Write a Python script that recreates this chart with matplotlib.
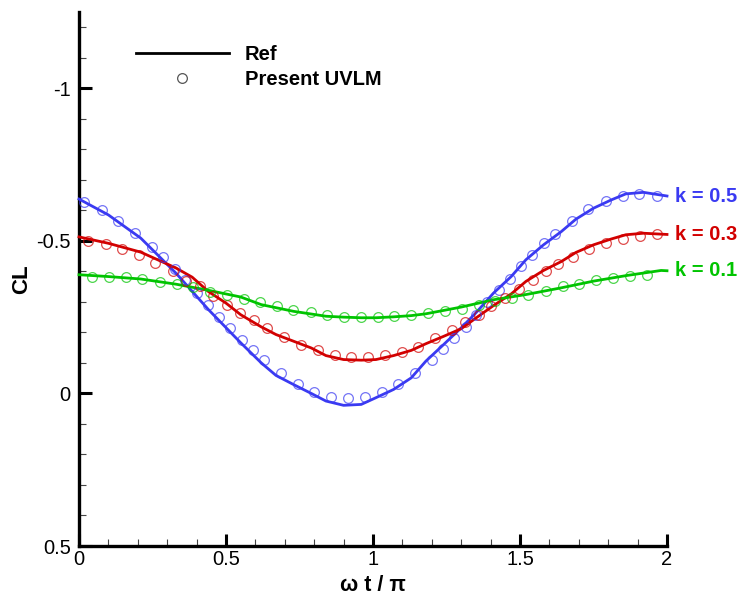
import matplotlib
matplotlib.use("Agg")
import matplotlib.pyplot as plt
from matplotlib.lines import Line2D
from matplotlib.ticker import MultipleLocator, FixedLocator

plt.rcParams['font.family'] = ['Liberation Sans', 'DejaVu Sans']

# ---- Reference (solid lines) ----
blue_line_x = [0, 0.1, 0.21, 0.33, 0.44, 0.55, 0.62, 0.67, 0.73, 0.79, 0.84, 0.90, 0.96,
               1.01, 1.07, 1.13, 1.18, 1.24, 1.30, 1.35, 1.41, 1.47, 1.52, 1.58, 1.64,
               1.69, 1.75, 1.81, 1.86, 1.92, 1.98, 2.0]
blue_line_y = [-0.637, -0.585, -0.509, -0.394, -0.275, -0.166, -0.100, -0.059, -0.029, 0.0,
               0.025, 0.039, 0.036, 0.014, -0.013, -0.051, -0.106, -0.160, -0.215, -0.264,
               -0.329, -0.383, -0.438, -0.487, -0.530, -0.571, -0.607, -0.634, -0.654,
               -0.659, -0.650, -0.647]

red_line_x = [0, 0.1, 0.21, 0.33, 0.385, 0.44, 0.5, 0.55, 0.62, 0.67, 0.73, 0.79, 0.84,
              0.90, 0.96, 1.01, 1.07, 1.13, 1.18, 1.24, 1.30, 1.35, 1.41, 1.47, 1.52,
              1.58, 1.64, 1.69, 1.75, 1.81, 1.86, 1.92, 1.98, 2.0]
red_line_y = [-0.513, -0.492, -0.463, -0.411, -0.381, -0.334, -0.296, -0.258, -0.218,
              -0.193, -0.171, -0.149, -0.124, -0.111, -0.109, -0.111, -0.124, -0.141,
              -0.163, -0.187, -0.212, -0.247, -0.288, -0.326, -0.367, -0.403, -0.432,
              -0.462, -0.487, -0.506, -0.520, -0.525, -0.522, -0.521]

green_line_x = [0, 0.1, 0.21, 0.33, 0.44, 0.55, 0.62, 0.73, 0.84, 0.90, 0.96, 1.01, 1.07,
                1.13, 1.18, 1.24, 1.30, 1.35, 1.41, 1.52, 1.64, 1.75, 1.86, 1.98, 2.0]
green_line_y = [-0.389, -0.383, -0.375, -0.358, -0.338, -0.316, -0.291, -0.269, -0.253,
                -0.250, -0.248, -0.248, -0.251, -0.255, -0.261, -0.272, -0.283, -0.294,
                -0.307, -0.324, -0.346, -0.368, -0.386, -0.403, -0.402]

# ---- Present UVLM (open circles) ----
blue_pts_x = [0.018, 0.077, 0.134, 0.190, 0.248, 0.287, 0.325, 0.362, 0.400, 0.440, 0.477,
              0.515, 0.553, 0.593, 0.628, 0.686, 0.744, 0.799, 0.857, 0.914, 0.973, 1.030,
              1.086, 1.143, 1.200, 1.239, 1.276, 1.315, 1.351, 1.389, 1.429, 1.466, 1.503,
              1.540, 1.582, 1.619, 1.676, 1.732, 1.793, 1.849, 1.906, 1.965]
blue_pts_y = [-0.628, -0.601, -0.566, -0.527, -0.480, -0.446, -0.407, -0.372, -0.330,
              -0.290, -0.252, -0.215, -0.176, -0.141, -0.109, -0.068, -0.032, -0.004,
              0.011, 0.016, 0.011, -0.004, -0.032, -0.068, -0.111, -0.145, -0.182, -0.217,
              -0.258, -0.298, -0.338, -0.376, -0.417, -0.454, -0.492, -0.523, -0.566,
              -0.604, -0.632, -0.648, -0.654, -0.648]

red_pts_x = [0.032, 0.091, 0.147, 0.204, 0.260, 0.319, 0.364, 0.413, 0.457, 0.502, 0.549,
             0.595, 0.640, 0.697, 0.754, 0.812, 0.871, 0.925, 0.982, 1.041, 1.098, 1.154,
             1.211, 1.268, 1.313, 1.359, 1.403, 1.449, 1.498, 1.543, 1.590, 1.630, 1.679,
             1.736, 1.793, 1.851, 1.908, 1.967]
red_pts_y = [-0.498, -0.490, -0.474, -0.454, -0.429, -0.402, -0.370, -0.351, -0.318,
             -0.291, -0.265, -0.241, -0.215, -0.184, -0.160, -0.142, -0.127, -0.121,
             -0.121, -0.125, -0.136, -0.153, -0.181, -0.209, -0.233, -0.258, -0.287,
             -0.313, -0.343, -0.372, -0.400, -0.425, -0.447, -0.473, -0.492, -0.507,
             -0.516, -0.523]

green_pts_x = [0.043, 0.102, 0.159, 0.215, 0.274, 0.332, 0.388, 0.446, 0.502, 0.560, 0.616,
               0.672, 0.729, 0.788, 0.843, 0.901, 0.959, 1.016, 1.072, 1.129, 1.188, 1.245,
               1.302, 1.359, 1.415, 1.472, 1.528, 1.587, 1.645, 1.702, 1.759, 1.815, 1.874,
               1.933]
green_pts_y = [-0.383, -0.383, -0.381, -0.376, -0.366, -0.357, -0.349, -0.334, -0.321,
               -0.309, -0.299, -0.285, -0.275, -0.266, -0.258, -0.251, -0.249, -0.249,
               -0.253, -0.256, -0.264, -0.271, -0.278, -0.291, -0.302, -0.313, -0.324,
               -0.337, -0.351, -0.359, -0.373, -0.378, -0.386, -0.389]

series_labels = ["k = 0.5", "k = 0.3", "k = 0.1"]
colors = ["#3a3af2", "#d20000", "#00c400"]

xticks = [0, 0.5, 1, 1.5, 2]
xticklabels = ["0", "0.5", "1", "1.5", "2"]
yticks = [-1, -0.5, 0, 0.5]
yticklabels = ["-1", "-0.5", "0", "0.5"]

fig = plt.figure(figsize=(7.4, 5.99), dpi=100)
ax = fig.add_axes([79 / 740, 1 - 546 / 599, 588 / 740, 534 / 599])

lines = [(blue_line_x, blue_line_y), (red_line_x, red_line_y), (green_line_x, green_line_y)]
pts = [(blue_pts_x, blue_pts_y), (red_pts_x, red_pts_y), (green_pts_x, green_pts_y)]

for (lx, ly), (px, py), c, lab in zip(lines, pts, colors, series_labels):
    ax.plot(lx, ly, color=c, lw=2.0, solid_joinstyle='round', zorder=3, clip_on=False)
    ax.plot(px, py, linestyle='none', marker='o', markersize=7.0, markerfacecolor='none',
            markeredgecolor=c, markeredgewidth=0.9, alpha=0.7, zorder=4, clip_on=False)
    ax.annotate(lab, xy=(lx[-1], ly[-1]), xytext=(6, 0), textcoords='offset points',
                color=c, fontsize=14.5, fontweight='bold', va='center', ha='left',
                annotation_clip=False)

ax.set_xlim(0, 2)
ax.set_ylim(0.5, -1.25)

ax.xaxis.set_major_locator(FixedLocator(xticks))
ax.set_xticklabels(xticklabels)
ax.yaxis.set_major_locator(FixedLocator(yticks))
ax.set_yticklabels(yticklabels)
ax.xaxis.set_minor_locator(MultipleLocator(0.1))
ax.yaxis.set_minor_locator(MultipleLocator(0.1))

ax.tick_params(which='major', direction='in', length=9, width=2.2, labelsize=14.5,
               color='black', pad=3)
ax.tick_params(which='minor', direction='in', length=5, width=0.8, color='#444444')
ax.tick_params(axis='y', which='major', pad=6)

for s in ['top', 'right']:
    ax.spines[s].set_visible(False)
for s in ['left', 'bottom']:
    ax.spines[s].set_linewidth(2.4)

ax.set_xlabel("ω t / π", fontsize=15.5, fontweight='bold', labelpad=4)
ax.set_ylabel("CL", fontsize=16, fontweight='bold', labelpad=3)

handles = [Line2D([], [], color='black', lw=2.0),
           Line2D([], [], linestyle='none', marker='o', markersize=7.0,
                  markerfacecolor='none', markeredgecolor='#555555', markeredgewidth=0.9)]
ax.legend(handles, ["Ref", "Present UVLM"], loc='upper left',
          bbox_to_anchor=(136 / 740, 1 - 45 / 599), bbox_transform=fig.transFigure,
          frameon=False, borderpad=0, borderaxespad=0, handlelength=4.6,
          handletextpad=0.8, labelspacing=0.32,
          prop={'size': 14.5, 'weight': 'bold'})

fig.savefig("out.png", dpi=100)
